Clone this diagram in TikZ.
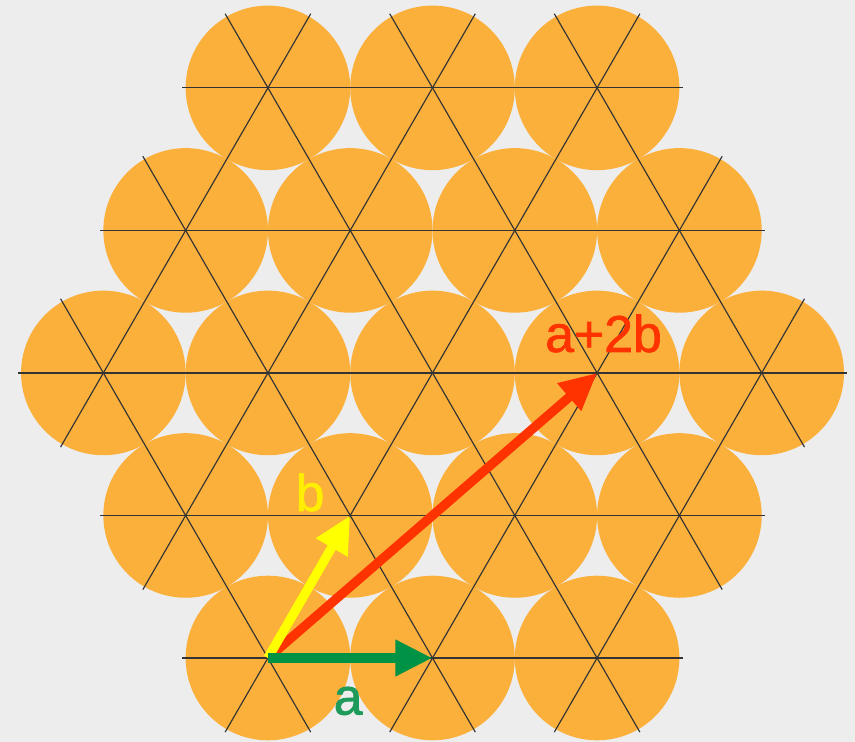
\documentclass[tikz,border=0pt]{standalone}
\usepackage{fontspec}
\setmainfont{Liberation Sans}
\newfontface\labfont{Liberation Sans}[FakeBold=1.3]
\usetikzlibrary{arrows.meta}
\definecolor{paper}{HTML}{EDEDED}
\definecolor{disk}{HTML}{FBB03B}
\definecolor{vecA}{HTML}{009245}
\definecolor{vecB}{HTML}{FFFF00}
\definecolor{vecAB}{HTML}{FF3300}
\definecolor{labA}{HTML}{1E9A5A}
\definecolor{labB}{HTML}{FFEE00}
\tikzset{
  lattice/.style={line width=0.4pt, black!80},
  vec/.style={line width=3.2pt, -{Triangle[length=12.8pt,width=11.8pt]}},
  lab/.style={inner sep=0pt, font=\labfont\fontsize{17.9}{20}\selectfont},
}
\begin{document}
\begin{tikzpicture}[x=2cm,y=2cm]
  % paper background
  \fill[paper] (-2.628,-2.242) rectangle (2.567,2.266);
  \useasboundingbox (-2.628,-2.242) rectangle (2.567,2.266);
  % 19 touching disks on a hexagonal patch
  \foreach \n in {-2,...,2} {
    \pgfmathtruncatemacro{\mlo}{max(-2,-2-\n)}
    \pgfmathtruncatemacro{\mhi}{min(2,2-\n)}
    \foreach \m in {\mlo,...,\mhi}
      \fill[disk] ({\m+\n/2},{\n*sqrt(3)/2}) circle (0.5);
  }
  % lattice lines in the three directions
  \foreach \r in {0,60,120}
    \foreach \n in {-2,...,2}
      \draw[lattice, rotate=\r] ({-(4-abs(\n))/2-0.52},{\n*sqrt(3)/2}) -- ({(4-abs(\n))/2+0.52},{\n*sqrt(3)/2});
  % lattice vectors from the lower left disk
  \coordinate (O) at (-1,{-sqrt(3)});
  \coordinate (A) at (0,{-sqrt(3)});
  \coordinate (B) at (-0.5,{-sqrt(3)/2});
  \coordinate (AB2) at (1,0);
  \draw[vec, vecAB] (O) -- (AB2);
  \draw[vec, vecB] (O) -- (B);
  \draw[vec, vecA] (O) -- (A);
  % Labels
  \node[lab, labA] (labelA) at (-0.513,-1.993) {a};
  \node[lab, labB] (labelB) at (-0.744,-0.726) {b};
  \node[lab, vecAB] (labelAB) at (1.039,0.240) {a+2b};
\end{tikzpicture}
\end{document}
